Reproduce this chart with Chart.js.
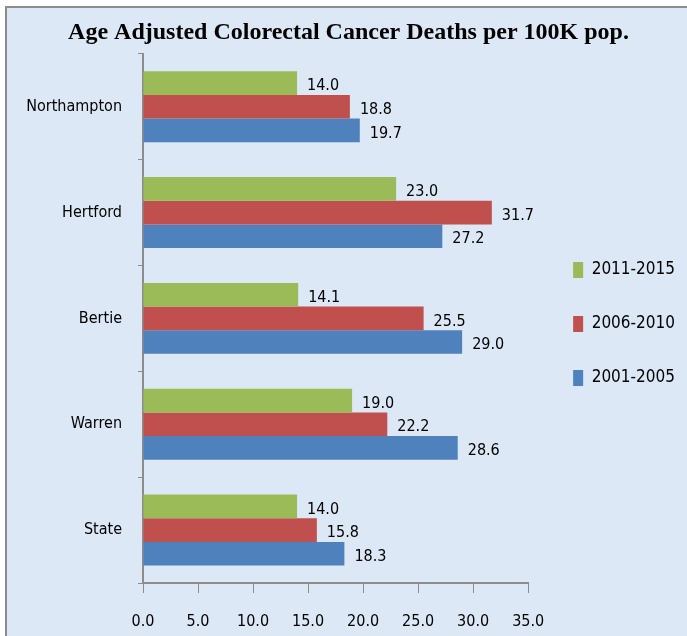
<!DOCTYPE html>
<html>
<head>
<meta charset="utf-8">
<script src="https://cdn.jsdelivr.net/npm/chart.js@4.4.1/dist/chart.umd.min.js"></script>
<style>
  html, body { margin: 0; padding: 0; background: #fff; }
  #wrap { width: 687px; height: 636px; }
</style>
</head>
<body>
<div id="wrap"><canvas id="chart" width="687" height="636"></canvas></div>
<script>
// chart data
const categories = ['Northampton', 'Hertford', 'Bertie', 'Warren', 'State'];
const seriesNames = ['2011-2015', '2006-2010', '2001-2005'];
const deaths2011 = [14.0, 23.0, 14.1, 19.0, 14.0];
const deaths2006 = [18.8, 31.7, 25.5, 22.2, 15.8];
const deaths2001 = [19.7, 27.2, 29.0, 28.6, 18.3];
const xTicks = [0, 5, 10, 15, 20, 25, 30, 35];

const narrow = "'DejaVu Sans Condensed', 'Liberation Sans Narrow', sans-serif";

// light blue panel with a grey frame, drawn behind everything
const panelBackground = {
    id: 'panelBackground',
    beforeDraw(chart) {
        const ctx = chart.ctx;
        ctx.save();
        ctx.fillStyle = '#ffffff';
        ctx.fillRect(0, 0, chart.width, chart.height);
        ctx.fillStyle = '#dce8f5';
        ctx.fillRect(6, 7, chart.width - 6, chart.height - 7);
        ctx.strokeStyle = '#8c8c8c';
        ctx.lineWidth = 2;
        ctx.beginPath();
        ctx.moveTo(6, chart.height);
        ctx.lineTo(6, 7);
        ctx.lineTo(chart.width, 7);
        ctx.stroke();
        ctx.restore();
    }
};

// value labels at the end of each bar
const valueLabels = {
    id: 'valueLabels',
    afterDatasetsDraw(chart) {
        const ctx = chart.ctx;
        ctx.save();
        ctx.font = '16px ' + narrow;
        ctx.fillStyle = '#000000';
        ctx.textAlign = 'left';
        ctx.textBaseline = 'middle';
        chart.data.datasets.forEach((ds, i) => {
            const meta = chart.getDatasetMeta(i);
            meta.data.forEach((bar, j) => {
                ctx.fillText(ds.data[j].toFixed(1), bar.x + 10, bar.y + 3);
            });
        });
        ctx.restore();
    }
};

new Chart(document.getElementById('chart'), {
    type: 'bar',
    data: {
        labels: categories,
        datasets: [
            { label: seriesNames[0], data: deaths2011, backgroundColor: '#9bbb59' },
            { label: seriesNames[1], data: deaths2006, backgroundColor: '#c0504d' },
            { label: seriesNames[2], data: deaths2001, backgroundColor: '#4f81bd' },
        ],
    },
    options: {
        indexAxis: 'y',
        responsive: false,
        animation: false,
        categoryPercentage: 0.67,
        barPercentage: 1.0,
        layout: { padding: { left: 12, right: 2, top: 0, bottom: 5 } },
        scales: {
            x: {
                min: 0,
                max: 35,
                afterBuildTicks(scale) {
                    scale.ticks = xTicks.map((v) => ({ value: v }));
                },
                afterFit(scale) {
                    scale.height = 48;
                },
                grid: {
                    drawOnChartArea: false,
                    tickLength: 10,
                    color: '#8c8c8c',
                    lineWidth: 1,
                },
                border: { color: '#8c8c8c', width: 2 },
                ticks: {
                    padding: 19,
                    color: '#000000',
                    font: { family: narrow, size: 16 },
                    callback: (v) => Number(v).toFixed(1),
                },
            },
            y: {
                afterFit(scale) {
                    scale.width = 131;
                },
                grid: {
                    drawOnChartArea: false,
                    offset: true,
                    tickLength: 5,
                    color: '#8c8c8c',
                },
                border: { color: '#8c8c8c', width: 2 },
                ticks: {
                    padding: 16,
                    color: '#000000',
                    font: { family: narrow, size: 16 },
                },
            },
            // hidden spacer between plot and legend
            gap: {
                type: 'linear',
                position: 'right',
                display: false,
                afterFit(scale) {
                    scale.width = 8;
                },
            },
        },
        plugins: {
            title: {
                display: true,
                text: 'Age Adjusted Colorectal Cancer Deaths per 100K pop.',
                color: '#000000',
                font: { family: "'Liberation Serif', 'Times New Roman', serif", size: 24, weight: 'bold' },
                padding: { top: 18, bottom: 7 },
            },
            legend: {
                position: 'right',
                fullSize: false,
                title: { display: true, text: '', padding: 5, font: { size: 1 } },
                labels: {
                    boxWidth: 10,
                    boxHeight: 16,
                    padding: 37,
                    color: '#000000',
                    font: { family: narrow, size: 17 },
                },
            },
            tooltip: { enabled: false },
        },
    },
    plugins: [panelBackground, valueLabels],
});
</script>
</body>
</html>
